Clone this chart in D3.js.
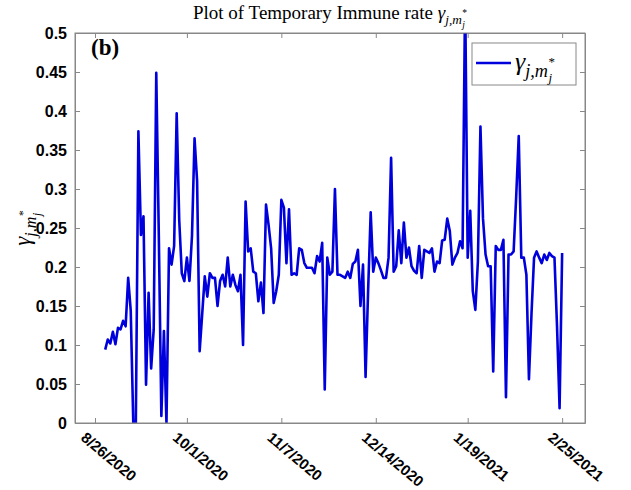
<!DOCTYPE html>
<html>
<head>
<meta charset="utf-8">
<script src="https://cdn.jsdelivr.net/npm/d3@7"></script>
<style>
  body { margin: 0; background: #fff; }
  .axis text { font-family: "Liberation Sans", Arial, sans-serif; font-weight: bold; font-size: 16px; fill: #000; }
  .axis path, .axis line { stroke: #888; }
  .xaxis text { font-size: 15px; }
</style>
</head>
<body>
<div id="chart"></div>
<script>
// daily values, starting 8/30/2020
var startDay = "2020-08-30";
var gammaValues = [
  0.094, 0.107, 0.102, 0.117, 0.101, 0.122, 0.120, 0.131, 0.124, 0.186,
  0.144, 0.0, 0.0, 0.374, 0.241, 0.265, 0.049, 0.167, 0.070, 0.12,
  0.449, 0.24, 0.009, 0.118, 0.0, 0.224, 0.203, 0.227, 0.397, 0.26,
  0.192, 0.182, 0.212, 0.182, 0.24, 0.365, 0.31, 0.092, 0.14, 0.188,
  0.162, 0.192, 0.186, 0.186, 0.150, 0.182, 0.190, 0.175, 0.212, 0.175,
  0.190, 0.177, 0.169, 0.190, 0.100, 0.284, 0.220, 0.224, 0.194, 0.192,
  0.156, 0.180, 0.141, 0.280, 0.254, 0.224, 0.154, 0.169, 0.190, 0.286,
  0.276, 0.205, 0.274, 0.190, 0.192, 0.190, 0.224, 0.222, 0.205, 0.199,
  0.199, 0.199, 0.192, 0.214, 0.207, 0.231, 0.043, 0.212, 0.190, 0.194,
  0.300, 0.190, 0.190, 0.188,
  0.186, 0.194, 0.186, 0.204, 0.207, 0.222, 0.150, 0.203, 0.059, 0.17,
  0.270, 0.194, 0.212, 0.205, 0.196, 0.186, 0.186, 0.212, 0.340,
  0.194, 0.201, 0.247, 0.205, 0.257, 0.212, 0.225, 0.201, 0.195, 0.192,
  0.227, 0.186, 0.222, 0.220, 0.218, 0.224, 0.194, 0.207, 0.205, 0.234,
  0.235, 0.262, 0.246, 0.203, 0.212, 0.218, 0.233, 0.224,
  0.55,
  0.212, 0.272, 0.169, 0.145, 0.207, 0.380, 0.262, 0.216, 0.201, 0.201,
  0.066, 0.227, 0.222, 0.222, 0.235, 0.033, 0.216, 0.216, 0.220, 0.29,
  0.368, 0.212, 0.212, 0.190, 0.056, 0.14, 0.212, 0.220, 0.212, 0.205,
  0.216, 0.209, 0.218, 0.214, 0.212, 0.124, 0.019, 0.218
];
var xTickDays = ["2020-08-26", "2020-10-01", "2020-11-07", "2020-12-14", "2021-01-19", "2021-02-25"];
var yTicks = [0, 0.05, 0.1, 0.15, 0.2, 0.25, 0.3, 0.35, 0.4, 0.45, 0.5];
var xLimits = ["2020-08-18T04:00", "2021-03-05T23:00"];

var svgWidth = 631, svgHeight = 490;
var margin = { top: 33, right: 46, bottom: 67, left: 75 };
var width = svgWidth - margin.left - margin.right;
var height = svgHeight - margin.top - margin.bottom;

var parseDay = d3.utcParse("%Y-%m-%d");
var parseHour = d3.utcParse("%Y-%m-%dT%H:%M");
var t0 = parseDay(startDay);
var data = gammaValues.map((v, i) => ({ date: d3.utcDay.offset(t0, i), value: v }));

var svg = d3.select("#chart").append("svg")
  .attr("width", svgWidth)
  .attr("height", svgHeight)
  .style("font-family", "'Liberation Serif', serif");

var g = svg.append("g")
  .attr("transform", "translate(" + margin.left + "," + margin.top + ")");

var x = d3.scaleUtc().domain(xLimits.map(parseHour)).range([0, width]);
var y = d3.scaleLinear().domain([0, 0.5]).range([height, 0]);

g.append("defs").append("clipPath").attr("id", "plotClip")
  .append("rect").attr("width", width).attr("height", height);

// gamma_{j,m_j^*} as svg text with tspans
function gammaLabel(sel, size) {
  sel.append("tspan").style("font-style", "italic").text("\u03b3");
  sel.append("tspan").style("font-style", "italic").attr("font-size", size * 0.7)
    .attr("dy", size * 0.28).text("j,m");
  sel.append("tspan").attr("font-size", size * 0.5)
    .attr("dy", -size * 0.42).attr("dx", size * 0.02).text("*");
  sel.append("tspan").style("font-style", "italic").attr("font-size", size * 0.5)
    .attr("dy", size * 0.62).attr("dx", -size * 0.25).text("j");
}

var fmt = d3.utcFormat("%-m/%-d/%Y");
var tickDates = xTickDays.map(parseDay);

var xAxis = g.append("g")
  .attr("class", "axis xaxis")
  .attr("transform", "translate(0," + height + ")")
  .call(d3.axisBottom(x).tickValues(tickDates).tickFormat(fmt).tickSizeInner(-5).tickSizeOuter(0).tickPadding(12));
xAxis.selectAll("text")
  .attr("text-anchor", "start")
  .attr("transform", "rotate(40)")
  .attr("dx", "-0.1em")
  .attr("dy", "0.7em");

g.append("g").attr("class", "axis")
  .call(d3.axisTop(x).tickValues(tickDates).tickFormat("").tickSizeInner(-5).tickSizeOuter(0));

g.append("g").attr("class", "axis")
  .call(d3.axisLeft(y).tickValues(yTicks).tickFormat(d3.format("~g")).tickSizeInner(-5).tickSizeOuter(0).tickPadding(8));

g.append("g").attr("class", "axis")
  .attr("transform", "translate(" + width + ",0)")
  .call(d3.axisRight(y).tickValues(yTicks).tickFormat("").tickSizeInner(-5).tickSizeOuter(0));

var line = d3.line()
  .x(d => x(d.date))
  .y(d => y(d.value));

g.append("path")
  .datum(data)
  .attr("clip-path", "url(#plotClip)")
  .attr("fill", "none")
  .attr("stroke", "#0000dd")
  .attr("stroke-width", 2.6)
  .attr("stroke-linejoin", "round")
  .attr("d", line);

// box
g.append("rect")
  .attr("width", width).attr("height", height)
  .attr("fill", "none").attr("stroke", "#888");

// (b)
g.append("text")
  .attr("x", 16).attr("y", 22)
  .attr("font-size", 23).attr("font-weight", "bold")
  .text("(b)");

// title
var title = svg.append("text")
  .attr("x", 330).attr("y", 19)
  .attr("text-anchor", "middle")
  .attr("font-size", 19);
title.append("tspan").text("Plot of Temporary Immune rate ");
gammaLabel(title, 19);

// y label
var ylab = svg.append("text")
  .attr("transform", "translate(30," + (margin.top + height / 2) + ") rotate(-90)")
  .attr("text-anchor", "middle")
  .attr("font-size", 23);
gammaLabel(ylab, 23);

// legend
var leg = svg.append("g").attr("transform", "translate(472,43)");
leg.append("rect").attr("width", 104).attr("height", 42)
  .attr("fill", "#fff").attr("stroke", "#888");
leg.append("line").attr("x1", 4).attr("x2", 39).attr("y1", 20).attr("y2", 20)
  .attr("stroke", "#0000dd").attr("stroke-width", 2.6);
var legText = leg.append("text").attr("x", 43).attr("y", 27).attr("font-size", 26);
gammaLabel(legText, 26);
</script>
</body>
</html>
